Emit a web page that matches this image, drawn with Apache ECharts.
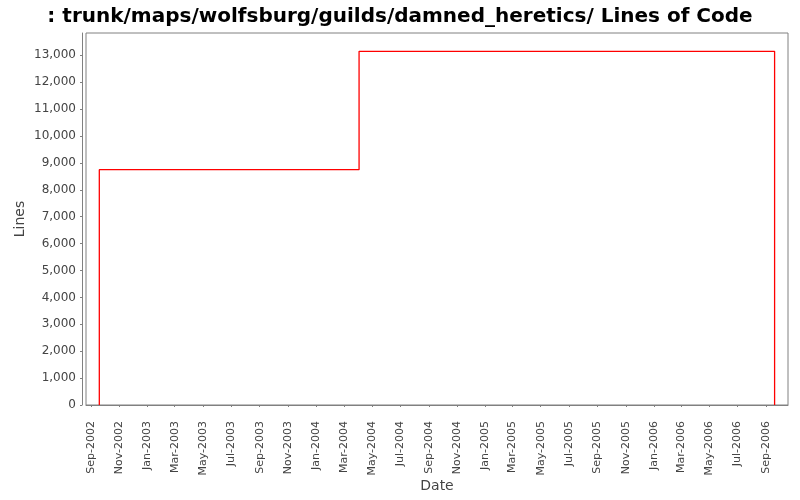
<!DOCTYPE html>
<html>
<head>
<meta charset="utf-8">
<script src="https://cdn.jsdelivr.net/npm/echarts@6/dist/echarts.min.js"></script>
<style>
  html, body { margin: 0; padding: 0; background: #fff; }
  #main { width: 800px; height: 500px; }
</style>
</head>
<body>
<div id="main"></div>
<script>
// 数据：日期与代码行数（阶梯线）
var dates = ['2002-09-19', '2002-09-19', '2004-04-03', '2006-09-19'];
var lines = [0, 8750, 13150, 0];
// 横轴刻度标签（每两个月）
var tickLabels = [
  'Sep-2002', 'Nov-2002', 'Jan-2003', 'Mar-2003', 'May-2003', 'Jul-2003',
  'Sep-2003', 'Nov-2003', 'Jan-2004', 'Mar-2004', 'May-2004', 'Jul-2004',
  'Sep-2004', 'Nov-2004', 'Jan-2005', 'Mar-2005', 'May-2005', 'Jul-2005',
  'Sep-2005', 'Nov-2005', 'Jan-2006', 'Mar-2006', 'May-2006', 'Jul-2006',
  'Sep-2006'
];
var monthNames = ['Jan', 'Feb', 'Mar', 'Apr', 'May', 'Jun', 'Jul', 'Aug', 'Sep', 'Oct', 'Nov', 'Dec'];

// 把日期字符串转成时间戳
function toTime (s) {
  var p = s.split('-');
  return Date.UTC(+p[0], +p[1] - 1, +p[2]);
}
// 把 'Sep-2002' 转成该月1号的时间戳
function labelToTime (s) {
  var p = s.split('-');
  return Date.UTC(+p[1], monthNames.indexOf(p[0]), 1);
}
function formatLabel (v) {
  var d = new Date(v);
  return monthNames[d.getUTCMonth()] + '-' + d.getUTCFullYear();
}

var tickValues = tickLabels.map(labelToTime);
var points = dates.map(function (d, i) {
  return [toTime(d), lines[i]];
});

var myChart = echarts.init(document.getElementById('main'));
var option = {
  animation: false,
  backgroundColor: '#fff',
  title: {
    text: ': trunk/maps/wolfsburg/guilds/damned_heretics/ Lines of Code',
    left: 'center',
    top: 2,
    textStyle: {
      fontFamily: 'DejaVu Sans',
      fontWeight: 'bold',
      fontSize: 20,
      color: '#000'
    }
  },
  // 控制图表区域位置
  grid: {
    left: 86,
    right: 12,
    top: 33,
    bottom: 95,
    outerBoundsMode: 'none',
    show: true,
    borderColor: '#808080',
    borderWidth: 1,
    backgroundColor: '#fff'
  },
  xAxis: {
    type: 'value',
    min: Date.UTC(2002, 7, 21, 5),
    max: Date.UTC(2006, 9, 18),
    offset: 4,
    name: 'Date',
    nameLocation: 'middle',
    nameGap: 70,
    nameMoveOverlap: false,
    nameTextStyle: { fontFamily: 'DejaVu Sans', fontSize: 14, color: '#444' },
    splitLine: { show: false },
    axisLine: { show: true, lineStyle: { color: '#808080', width: 1 } },
    axisTick: {
      show: true,
      length: 2,
      customValues: tickValues,
      lineStyle: { color: '#808080' }
    },
    axisLabel: {
      customValues: tickValues,
      rotate: 90,
      margin: 12,
      fontFamily: 'DejaVu Sans',
      fontSize: 11,
      color: '#444',
      formatter: formatLabel
    }
  },
  yAxis: {
    type: 'value',
    min: 0,
    max: 13830,
    interval: 1000,
    offset: 4,
    name: 'Lines',
    nameLocation: 'middle',
    nameGap: 55,
    nameMoveOverlap: false,
    nameTextStyle: { fontFamily: 'DejaVu Sans', fontSize: 14, color: '#444' },
    splitLine: { show: false },
    axisLine: { show: true, lineStyle: { color: '#808080', width: 1 } },
    axisTick: { show: true, length: 2, lineStyle: { color: '#808080' } },
    axisLabel: {
      margin: 6,
      fontFamily: 'DejaVu Sans',
      fontSize: 12,
      color: '#444',
      showMaxLabel: false,
      formatter: function (v) {
        return v.toLocaleString('en-US');
      }
    }
  },
  series: [
    {
      type: 'line',
      step: 'end',
      data: points,
      symbol: 'none',
      lineStyle: { color: '#ff0000', width: 1.3 }
    }
  ]
};
myChart.setOption(option);
</script>
</body>
</html>
